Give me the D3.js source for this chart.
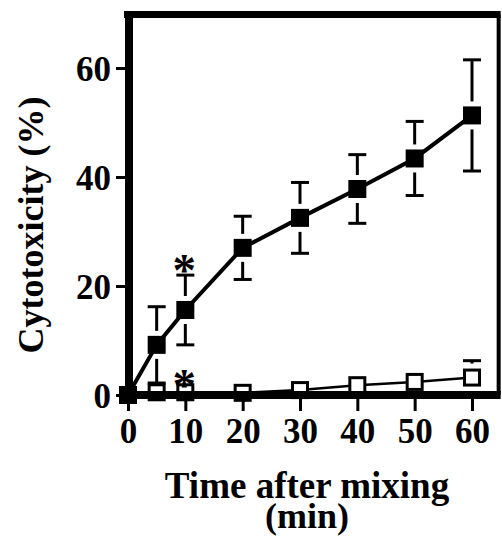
<!DOCTYPE html>
<html>
<head>
<meta charset="utf-8">
<script src="https://cdnjs.cloudflare.com/ajax/libs/d3/7.8.5/d3.min.js"></script>
<style>
  body { margin: 0; background: #fff; }
  svg { display: block; }
  text { font-family: "Liberation Serif", "Times New Roman", serif; font-weight: bold; fill: #000; }
</style>
</head>
<body>
<div id="chart"></div>
<script>
// time points (min)
var times = [0, 5, 10, 20, 30, 40, 50, 60]
// filled squares
var filledVals = [0, 9.2, 15.6, 27.0, 32.5, 37.8, 43.4, 51.3]
var filledErr = [0, 7.0, 6.4, 5.8, 6.5, 6.3, 6.8, 10.2]
// open squares
var openVals = [0, 0.5, 0.5, 0.4, 0.9, 1.8, 2.4, 3.2]
var openErr = [0, 0, 0, 0, 0, 0, 0, 3.1]
// significance marks
var starTimes = [10, 10]
var starVals = [24.0, 2.9]

var xTicks = [0, 10, 20, 30, 40, 50, 60]
var yTicks = [0, 20, 40, 60]

var width = 502
var height = 539

var x = d3.scaleLinear().domain([0, 60]).range([128, 472])
var y = d3.scaleLinear().domain([0, 60]).range([395, 68])
var xMax = 64.65
var yMax = 69.8

var svg = d3.select("#chart").append("svg")
    .attr("width", width)
    .attr("height", height)

var half = 9     // half size of a marker
var gap = 5      // gap between marker and error bar
var capW = 9

function drawSeries(vals, errs, filled, lineW) {
    var pts = times.map(function(t, i) { return {t: t, v: vals[i], e: errs[i]} })

    // error bars
    var g = svg.append("g").attr("stroke", "#000").attr("stroke-width", 3)
    pts.forEach(function(d) {
        if (!d.e) return
        var cy = y(d.v)
        var top = y(d.v + d.e)
        var bot = y(Math.max(d.v - d.e, 0))
        if (cy - half - gap > top) {
            g.append("line").attr("x1", x(d.t)).attr("x2", x(d.t))
                .attr("y1", top).attr("y2", cy - half - gap)
        }
        g.append("line").attr("x1", x(d.t) - capW).attr("x2", x(d.t) + capW)
            .attr("y1", top).attr("y2", top)
        if (cy + half + gap < bot) {
            g.append("line").attr("x1", x(d.t)).attr("x2", x(d.t))
                .attr("y1", cy + half + gap).attr("y2", bot)
            g.append("line").attr("x1", x(d.t) - capW).attr("x2", x(d.t) + capW)
                .attr("y1", bot).attr("y2", bot)
        }
    })

    var line = d3.line().x(function(d) { return x(d.t) }).y(function(d) { return y(d.v) })
    svg.append("path").datum(pts)
        .attr("d", line)
        .attr("fill", "none")
        .attr("stroke", "#000")
        .attr("stroke-width", lineW)

    svg.append("g").selectAll("rect")
        .data(pts)
        .enter()
        .append("rect")
        .attr("x", function(d) { return x(d.t) - (filled ? half : half - 1.5) })
        .attr("y", function(d) { return y(d.v) - (filled ? half : half - 1.5) })
        .attr("width", filled ? 2 * half : 2 * half - 3)
        .attr("height", filled ? 2 * half : 2 * half - 3)
        .attr("fill", filled ? "#000" : "#fff")
        .attr("stroke", "#000")
        .attr("stroke-width", filled ? 0 : 3)
}

// frame: top and right thinner than the axes
svg.append("line").attr("x1", x(0) - 4).attr("x2", x(xMax) + 2)
    .attr("y1", y(yMax)).attr("y2", y(yMax))
    .attr("stroke", "#000").attr("stroke-width", 7)
svg.append("line").attr("x1", x(xMax)).attr("x2", x(xMax))
    .attr("y1", y(yMax)).attr("y2", y(0))
    .attr("stroke", "#000").attr("stroke-width", 4)

// open series under the filled one
drawSeries(openVals, openErr, false, 2.5)

// axes
var yAxis = d3.axisLeft(y).tickValues(yTicks).tickSize(13).tickPadding(5).tickFormat(d3.format("d"))
var xAxis = d3.axisBottom(x).tickValues(xTicks).tickSize(16).tickPadding(7).tickFormat(d3.format("d"))

var gx = svg.append("g").attr("transform", "translate(0," + y(0) + ")").call(xAxis)
var gy = svg.append("g").attr("transform", "translate(" + (x(0) + 1) + ",0)").call(yAxis)

gx.select(".domain").remove()
gy.select(".domain").remove()
gx.selectAll(".tick line").attr("stroke-width", 3)
gy.selectAll(".tick line").attr("stroke-width", 3)
gx.selectAll("text").attr("font-size", 35).attr("font-family", "Liberation Serif").attr("font-weight", "bold").attr("fill", "#000")
gy.selectAll("text").attr("font-size", 35).attr("font-family", "Liberation Serif").attr("font-weight", "bold").attr("fill", "#000").attr("dy", "0.35em")

svg.append("line").attr("x1", x(0) + 1).attr("x2", x(0) + 1)
    .attr("y1", y(yMax) - 3.5).attr("y2", y(0) + 4)
    .attr("stroke", "#000").attr("stroke-width", 8)
svg.append("line").attr("x1", x(0) - 3).attr("x2", x(xMax) + 2)
    .attr("y1", y(0)).attr("y2", y(0))
    .attr("stroke", "#000").attr("stroke-width", 8)

drawSeries(filledVals, filledErr, true, 4)

// asterisks
svg.append("g").selectAll("text")
    .data(starTimes.map(function(t, i) { return {t: t, v: starVals[i]} }))
    .enter()
    .append("text")
    .attr("x", function(d) { return x(d.t) - 1 })
    .attr("y", function(d) { return y(d.v) + 22 })
    .attr("text-anchor", "middle")
    .attr("font-size", 47)
    .text("*")

// axis titles
svg.append("text")
    .attr("x", 307).attr("y", 498)
    .attr("text-anchor", "middle")
    .attr("font-size", 37)
    .text("Time after mixing")
svg.append("text")
    .attr("x", 307).attr("y", 528)
    .attr("text-anchor", "middle")
    .attr("font-size", 36)
    .text("(min)")
svg.append("text")
    .attr("transform", "translate(43,225) rotate(-90)")
    .attr("text-anchor", "middle")
    .attr("font-size", 36)
    .text("Cytotoxicity (%)")
</script>
</body>
</html>
